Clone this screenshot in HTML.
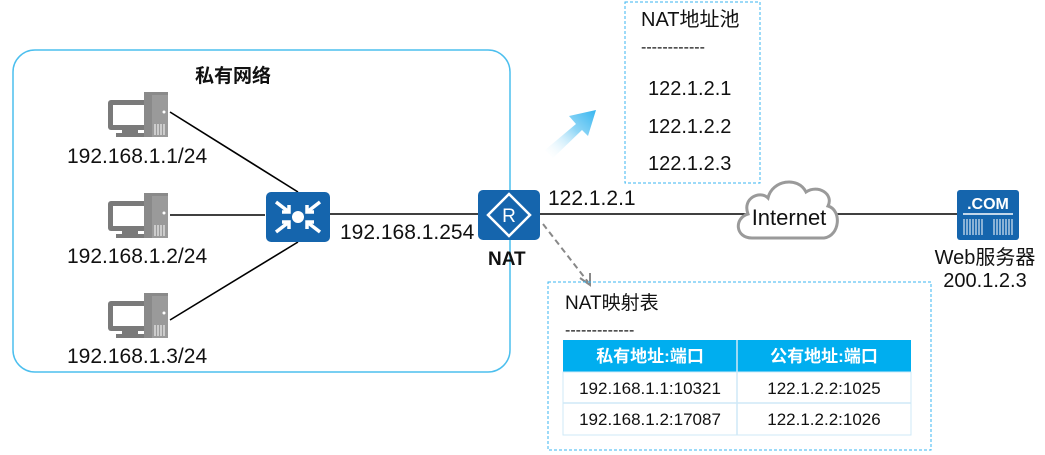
<!DOCTYPE html>
<html><head><meta charset="utf-8"><style>
html,body{margin:0;padding:0;background:#fff;}
svg{display:block;}
text{font-family:"Liberation Sans","Noto Sans CJK SC",sans-serif;}
</style></head><body>
<svg width="1045" height="455" viewBox="0 0 1045 455" xmlns="http://www.w3.org/2000/svg">
<defs>
<linearGradient id="ag" x1="0" y1="1" x2="1" y2="0">
<stop offset="0" stop-color="#ffffff" stop-opacity="0"/>
<stop offset="0.6" stop-color="#8fd6f6"/>
<stop offset="1" stop-color="#38b6f0"/>
</linearGradient>
<g id="pc">
<rect x="0" y="8" width="44" height="30" rx="3" fill="#7a7a7a"/>
<rect x="5" y="13" width="34" height="20" fill="#fff"/>
<rect x="14" y="38" width="16" height="4" fill="#7a7a7a"/>
<rect x="8" y="41" width="30" height="4" fill="#7a7a7a"/>
<rect x="36" y="0" width="24" height="45" fill="#8a8a8a"/>
<rect x="44" y="3" width="16" height="42" fill="#9a9a9a"/>
<circle cx="56" cy="20" r="1.5" fill="#fff"/>
<g stroke="#fff" stroke-width="1"><line x1="47" y1="32" x2="47" y2="43"/><line x1="50" y1="32" x2="50" y2="43"/><line x1="53" y1="32" x2="53" y2="43"/><line x1="56" y1="32" x2="56" y2="43"/></g>
</g>
</defs>
<rect x="13" y="50" width="497" height="322" rx="22" fill="none" stroke="#4cbfee" stroke-width="1.5"/>
<text x="195" y="82" font-size="19" font-weight="bold" fill="#111">私有网络</text>
<g stroke="#000" stroke-width="1.6">
<line x1="170" y1="112" x2="298" y2="192"/>
<line x1="170" y1="215" x2="265" y2="215"/>
<line x1="170" y1="320" x2="298" y2="242"/>
<line x1="330" y1="214" x2="478" y2="214"/>
<line x1="540" y1="214" x2="958" y2="214"/>
</g>
<use href="#pc" x="108" y="92"/>
<use href="#pc" x="108" y="193"/>
<use href="#pc" x="108" y="293"/>
<g font-size="21" fill="#111">
<text x="67" y="163">192.168.1.1/24</text>
<text x="67" y="263">192.168.1.2/24</text>
<text x="67" y="363">192.168.1.3/24</text>
<text x="340" y="239">192.168.1.254</text>
<text x="548" y="205">122.1.2.1</text>
</g>
<rect x="266" y="192" width="64" height="50" rx="5" fill="#1565ad"/>
<circle cx="298" cy="217" r="6" fill="#fff"/>
<g stroke="#fff" stroke-width="3.5" fill="none">
<path d="M276 202 L289 212 M282 212 L289 212 L289 205"/>
<path d="M320 202 L307 212 M314 212 L307 212 L307 205"/>
<path d="M276 232 L289 222 M282 222 L289 222 L289 229"/>
<path d="M320 232 L307 222 M314 222 L307 222 L307 229"/>
</g>
<rect x="478" y="190" width="62" height="50" rx="5" fill="#1565ad"/>
<path d="M509 194 L530 215 L509 236 L488 215 Z" fill="none" stroke="#fff" stroke-width="2.5"/>
<text x="509" y="222" font-size="19" fill="#fff" text-anchor="middle">R</text>
<text x="488" y="265" font-size="19" font-weight="bold" fill="#111">NAT</text>
<path d="M752 238 C735 238 734 218 748 214 C742 198 760 190 768 198 C772 180 798 176 806 192 C818 184 834 194 828 206 C842 210 840 236 824 238 Z" fill="#fff" stroke="#9a9a9a" stroke-width="3"/>
<text x="789" y="225" font-size="22" fill="#111" text-anchor="middle">Internet</text>
<rect x="957" y="190" width="62" height="50" rx="3" fill="#1565ad"/>
<text x="988" y="209" font-size="16" font-weight="bold" fill="#fff" text-anchor="middle">.COM</text>
<line x1="963" y1="214" x2="1013" y2="214" stroke="#fff" stroke-width="1.5"/>
<g stroke="#fff" stroke-width="1">
<path d="M964 219v16M967 219v16M970 219v16M973 219v16M976 219v16M979 219v16M982 219v16M994 219v16M997 219v16M1000 219v16M1003 219v16M1006 219v16M1009 219v16M1012 219v16"/>
</g>
<text x="985" y="264" font-size="20" fill="#111" text-anchor="middle">Web服务器</text>
<text x="985" y="287" font-size="20" fill="#111" text-anchor="middle">200.1.2.3</text>
<rect x="625" y="2" width="135" height="181" fill="none" stroke="#38b6f0" stroke-width="1" stroke-dasharray="3,2"/>
<g font-size="20" fill="#111">
<text x="641" y="26">NAT地址池</text>
<text x="641" y="52" font-size="16">------------</text>
<text x="648" y="95">122.1.2.1</text>
<text x="648" y="133">122.1.2.2</text>
<text x="648" y="170">122.1.2.3</text>
</g>
<path d="M545 150 L576 124 L569 116 L596 110 L588 136 L582 130 L553 158 Z" fill="url(#ag)"/>
<line x1="543" y1="224" x2="588" y2="282" stroke="#888" stroke-width="2" stroke-dasharray="6,4"/>
<path d="M580 278 L590 285 L590 273" fill="none" stroke="#888" stroke-width="2"/>
<rect x="548" y="282" width="383" height="168" fill="none" stroke="#38b6f0" stroke-width="1" stroke-dasharray="3,2"/>
<text x="565" y="309" font-size="19" fill="#111">NAT映射表</text>
<text x="565" y="335" font-size="16" fill="#111">-------------</text>
<rect x="563" y="340" width="348" height="32" fill="#00aeef"/>
<rect x="563" y="372" width="348" height="63" fill="#fff" stroke="#cfe9f7"/>
<line x1="563" y1="403" x2="911" y2="403" stroke="#cfe9f7" stroke-width="1.5"/>
<line x1="737" y1="340" x2="737" y2="435" stroke="#cfe9f7" stroke-width="1.5"/>
<g font-size="17" text-anchor="middle">
<text x="650" y="362" fill="#fff" font-weight="bold">私有地址:端口</text>
<text x="824" y="362" fill="#fff" font-weight="bold">公有地址:端口</text>
<text x="650" y="394" fill="#111">192.168.1.1:10321</text>
<text x="824" y="394" fill="#111">122.1.2.2:1025</text>
<text x="650" y="425" fill="#111">192.168.1.2:17087</text>
<text x="824" y="425" fill="#111">122.1.2.2:1026</text>
</g>
</svg>
</body></html>
